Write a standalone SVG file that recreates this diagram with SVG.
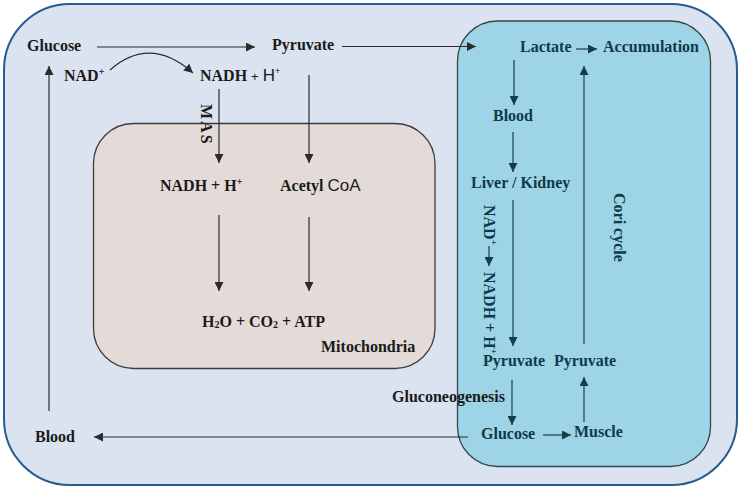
<svg xmlns="http://www.w3.org/2000/svg" width="742" height="490" viewBox="0 0 742 490">
<defs>
<style>
.t{font-family:"Liberation Serif","Times New Roman",serif;font-weight:bold;font-size:16px;fill:#1a1a1a}
.c{fill:#0f3a48}
.s{font-family:"Liberation Sans",Arial,sans-serif;font-weight:normal}
.k{stroke:#2b2b2b;stroke-width:1.2;fill:none}
.q{stroke:#163e4a;stroke-width:1.2;fill:none}
</style>
<marker id="ak" viewBox="0 0 10 10" refX="10" refY="5" markerWidth="10" markerHeight="9" markerUnits="userSpaceOnUse" orient="auto"><path d="M0,0L10,5L0,10z" fill="#2b2b2b"/></marker>
<marker id="aq" viewBox="0 0 10 10" refX="10" refY="5" markerWidth="10" markerHeight="9" markerUnits="userSpaceOnUse" orient="auto"><path d="M0,0L10,5L0,10z" fill="#163e4a"/></marker>
</defs>
<rect width="742" height="490" fill="#ffffff"/>
<g id="cell"><rect x="4" y="4" width="733" height="481" rx="66" fill="#dae3ef" stroke="#285b8e" stroke-width="2"/></g>
<g id="mitochondria"><rect x="93.5" y="123.5" width="341.5" height="245" rx="40" fill="#e4dbd8" stroke="#3d3d3d" stroke-width="1.3"/>
<text class="t" x="321" y="352">Mitochondria</text></g>
<g id="muscle-liver"><rect x="457.5" y="21" width="253" height="445.5" rx="40" fill="#9ed5e6" stroke="#33464c" stroke-width="1.3"/></g>

<g id="connectors">
<line class="k" x1="97" y1="47" x2="255" y2="47" marker-end="url(#ak)"/>
<line class="k" x1="342" y1="46.5" x2="476" y2="46.5" marker-end="url(#ak)"/>
<path class="k" d="M110,70 Q150,35 193,73" marker-end="url(#ak)"/>
<line class="k" x1="219" y1="89" x2="219" y2="163" marker-end="url(#ak)"/>
<line class="k" x1="309" y1="75" x2="309" y2="163" marker-end="url(#ak)"/>
<line class="k" x1="219" y1="215" x2="219" y2="291" marker-end="url(#ak)"/>
<line class="k" x1="309" y1="217" x2="309" y2="291" marker-end="url(#ak)"/>
<line class="k" x1="49" y1="411" x2="49" y2="66" marker-end="url(#ak)"/>
<line class="k" x1="468" y1="437" x2="94" y2="437" marker-end="url(#ak)"/>
<line class="q" x1="576" y1="49" x2="597" y2="49" marker-end="url(#aq)"/>
<line class="q" x1="514" y1="60" x2="514" y2="105" marker-end="url(#aq)"/>
<line class="q" x1="513" y1="132" x2="513" y2="172" marker-end="url(#aq)"/>
<line class="q" x1="513" y1="200" x2="513" y2="346" marker-end="url(#aq)"/>
<line class="q" x1="584" y1="344" x2="584" y2="66" marker-end="url(#aq)"/>
<line class="q" x1="512" y1="380" x2="512" y2="425" marker-end="url(#aq)"/>
<line class="q" x1="584" y1="422" x2="584" y2="377" marker-end="url(#aq)"/>
<line class="q" x1="543" y1="435" x2="571" y2="435" marker-end="url(#aq)"/>
</g>

<g id="glucose-top"><text class="t" x="27" y="51">Glucose</text></g>
<g id="pyruvate-top"><text class="t" x="272" y="50">Pyruvate</text></g>
<g id="nad-top"><text class="t" x="64" y="81">NAD<tspan font-size="10" dy="-6">+</tspan></text></g>
<g id="nadh-top"><text class="t" x="200" y="81">NADH <tspan class="s" font-size="13">+</tspan> <tspan class="s" font-size="17">H</tspan><tspan class="s" font-size="9" dy="-7">+</tspan></text></g>
<g id="mas"><text class="t" transform="translate(201,104) rotate(90)" font-size="14" letter-spacing="2">MAS</text></g>
<g id="nadh-mito"><text class="t" x="160" y="191">NADH + H<tspan font-size="10" dy="-6">+</tspan></text></g>
<g id="acetylcoa"><text class="t" x="280" y="191">Acetyl <tspan class="s" font-size="17">CoA</tspan></text></g>
<g id="products"><text class="t" x="202" y="327">H<tspan font-size="10" dy="1">2</tspan><tspan dy="-1">O + CO</tspan><tspan font-size="10" dy="1">2</tspan><tspan dy="-1"> + ATP</tspan></text></g>
<g id="blood-left"><text class="t" x="35" y="442">Blood</text></g>
<g id="lactate"><text class="t c" x="520" y="52">Lactate</text></g>
<g id="accumulation"><text class="t c" x="603" y="52">Accumulation</text></g>
<g id="blood-right"><text class="t c" x="493" y="121">Blood</text></g>
<g id="liver"><text class="t c" x="471" y="188">Liver / Kidney</text></g>
<g id="nad-vertical" transform="translate(484,205) rotate(90)">
<text class="t c">NAD<tspan font-size="9" dy="-7">+</tspan></text>
<line class="q" x1="41" y1="-5" x2="61" y2="-5" marker-end="url(#aq)"/>
<text class="t c" x="67">NADH + H<tspan font-size="9" dy="-7">+</tspan></text>
</g>
<g id="cori"><text class="t c" transform="translate(614,193) rotate(90)">Cori cycle</text></g>
<g id="pyruvate-liver"><text class="t c" x="483" y="366">Pyruvate</text></g>
<g id="pyruvate-muscle"><text class="t c" x="554" y="366">Pyruvate</text></g>
<g id="gluconeogenesis"><text class="t" x="392" y="402">Gluconeogenesis</text></g>
<g id="glucose-liver"><text class="t c" x="481" y="439">Glucose</text></g>
<g id="muscle"><text class="t c" x="574" y="437">Muscle</text></g>
</svg>
